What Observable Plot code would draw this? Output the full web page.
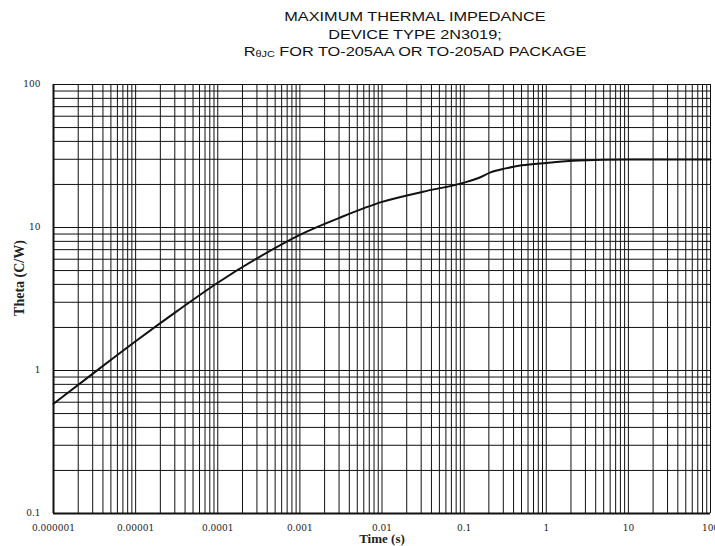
<!DOCTYPE html>
<html>
<head>
<meta charset="utf-8">
<script src="https://cdn.jsdelivr.net/npm/d3@7"></script>
<script src="https://cdn.jsdelivr.net/npm/@observablehq/plot@0.6"></script>
<style>
  html, body { margin: 0; padding: 0; background: #fff; }
  #wrap { width: 715px; height: 546px; overflow: hidden; position: relative; }
  #titlebox { height: 62px; position: relative; overflow: visible; }
  #title {
    position: absolute; left: 0; top: 7.6px; width: 715px; box-sizing: border-box;
    padding-left: 115px; text-align: center;
    font-family: "Liberation Sans", Arial, sans-serif; font-size: 16.3px; line-height: 22.7px;
    color: #111; transform: scaleY(0.77); transform-origin: 0 0;
  }
  #title .sub { font-size: 0.67em; vertical-align: -1px; }
  svg { display: block; }
</style>
</head>
<body>
<div id="wrap">
  <div id="titlebox">
    <div id="title">
      <div>MAXIMUM THERMAL IMPEDANCE</div>
      <div>DEVICE TYPE 2N3019;</div>
      <div>R<span class="sub">θJC</span> FOR TO-205AA OR TO-205AD PACKAGE</div>
    </div>
  </div>
  <div id="chart"></div>
</div>
<script>
// Curve (time in seconds, thermal impedance in C/W)
const timeS   = [1e-6, 3.16e-6, 1e-5, 3.16e-5, 1e-4, 3.16e-4, 1e-3, 3.16e-3, 1e-2, 3.16e-2, 0.1, 0.15, 0.21, 0.32, 0.5, 1, 2.5, 10, 100];
const thetaCW = [0.585, 0.97, 1.6, 2.59, 4.11, 6.19, 8.89, 11.8, 15.1, 17.8, 20.6, 22.2, 24.3, 25.9, 27.2, 28.3, 29.4, 29.9, 29.9];

// Axis ticks and labels
const xTicks = [1e-6, 1e-5, 1e-4, 1e-3, 1e-2, 1e-1, 1, 10, 100];
const xTickLabels = ["0.000001", "0.00001", "0.0001", "0.001", "0.01", "0.1", "1", "10", "100"];
const yTicks = [0.1, 1, 10, 100];
const yTickLabels = ["0.1", "1", "10", "100"];
const mantissas = [1, 2, 3, 4, 5, 6, 7, 8, 9];

const xTitle = "Time (s)";
const yTitle = "Theta (C/W)";

const xGrid = xTicks.slice(0, -1).flatMap(d => mantissas.map(m => m * d)).concat([100]);
const yGrid = yTicks.slice(0, -1).flatMap(d => mantissas.map(m => m * d)).concat([100]);

const data = timeS.map((t, i) => ({t, v: thetaCW[i]}));

const chart = Plot.plot({
  width: 715,
  height: 484,
  marginTop: 22,
  marginBottom: 33,
  marginLeft: 53,
  marginRight: 5,
  style: {fontFamily: "DejaVu Serif", fontSize: "9px", color: "#222", background: "#fff"},
  x: {type: "log", domain: [1e-6, 100]},
  y: {type: "log", domain: [0.1, 100]},
  marks: [
    Plot.ruleX(xGrid, {stroke: "#111", strokeWidth: 1}),
    Plot.ruleY(yGrid, {stroke: "#111", strokeWidth: 1}),
    Plot.ruleX([1e-6], {stroke: "#111", strokeWidth: 2}),
    Plot.ruleY([0.1], {stroke: "#111", strokeWidth: 2}),
    Plot.axisX(xTicks, {tickSize: 0, tickPadding: 11.5, label: null,
      tickFormat: d => xTickLabels[xTicks.indexOf(d)], fill: "#222"}),
    Plot.axisY(yTicks, {tickSize: 0, tickPadding: 13, label: null,
      tickFormat: d => yTickLabels[yTicks.indexOf(d)], fill: "#222"}),
    Plot.line(data, {x: "t", y: "v", curve: "monotone-x", stroke: "#111", strokeWidth: 2}),
    Plot.text([xTitle], {frameAnchor: "bottom", textAnchor: "middle", lineAnchor: "middle", dy: 25.5,
      fontFamily: "Liberation Serif", fontWeight: "bold", fontSize: 13, fill: "#222"}),
    Plot.text([yTitle], {frameAnchor: "left", textAnchor: "middle", lineAnchor: "middle", rotate: -90, dx: -34, dy: -21,
      fontFamily: "Liberation Serif", fontWeight: "bold", fontSize: 14, fill: "#222"})
  ]
});
document.getElementById("chart").appendChild(chart);
</script>
</body>
</html>
